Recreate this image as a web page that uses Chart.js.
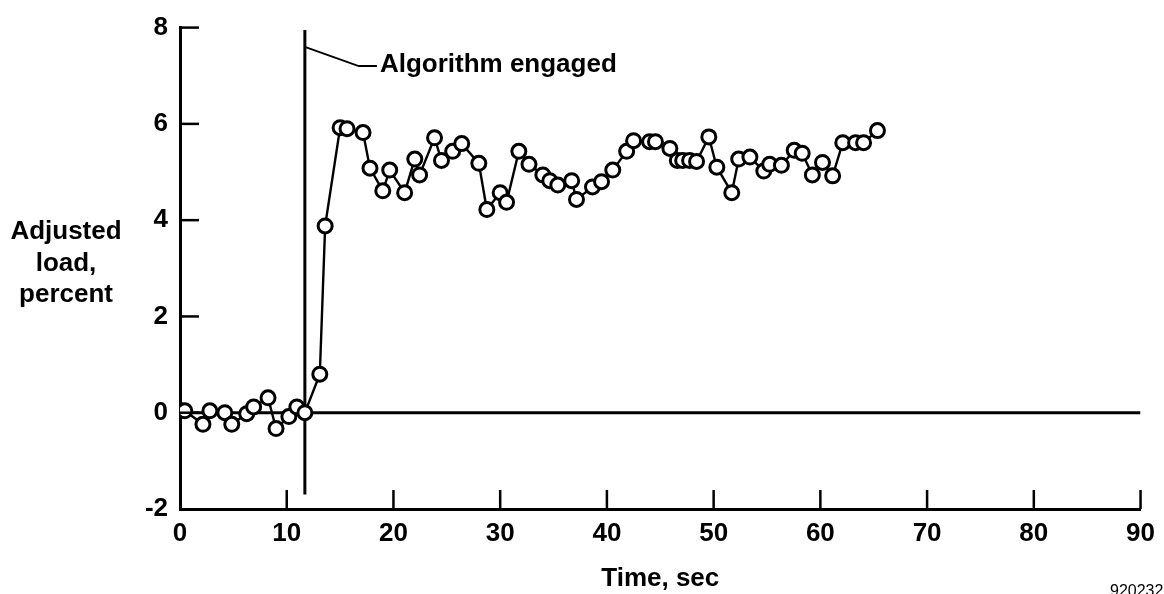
<!DOCTYPE html>
<html>
<head>
<meta charset="utf-8">
<script src="https://cdn.jsdelivr.net/npm/chart.js@4/dist/chart.umd.min.js"></script>
<style>
  html, body { margin: 0; padding: 0; background: #fff; }
  #wrap { width: 1164px; height: 594px; }
</style>
</head>
<body>
<div id="wrap"><canvas id="loadChart" width="1164" height="594"></canvas></div>
<script>
// time (sec) and adjusted load (percent)
const timeSec = [0, 0.45, 2.15, 2.8, 4.2, 4.85, 6.25, 6.9, 8.25, 9.0, 10.2, 10.95, 11.7,
  13.1, 13.6, 15.0, 15.65, 17.15, 17.8, 19.0, 19.65, 21.05, 22.0, 22.45, 23.85, 24.5,
  25.55, 26.4, 28.0, 28.75, 30.0, 30.6, 31.75, 32.7, 34.0, 34.65, 35.4, 36.7, 37.15,
  38.65, 39.5, 40.55, 41.85, 42.5, 44.0, 44.55, 45.9, 46.6, 47.1, 47.75, 48.4, 49.55,
  50.3, 51.7, 52.35, 53.4, 54.7, 55.25, 56.35, 57.55, 58.3, 59.25, 60.2, 61.15, 62.1,
  63.3, 64.05, 65.35];
const loadPct = [0.04, 0.04, -0.24, 0.04, 0, -0.24, -0.02, 0.12, 0.31, -0.33, -0.08, 0.12, 0,
  0.8, 3.88, 5.92, 5.9, 5.82, 5.08, 4.61, 5.04, 4.57, 5.27, 4.94, 5.71, 5.24,
  5.43, 5.59, 5.18, 4.22, 4.57, 4.37, 5.43, 5.16, 4.94, 4.82, 4.73, 4.82, 4.43,
  4.69, 4.8, 5.04, 5.43, 5.65, 5.63, 5.63, 5.49, 5.24, 5.24, 5.24, 5.22, 5.73,
  5.1, 4.57, 5.27, 5.31, 5.02, 5.16, 5.14, 5.45, 5.39, 4.94, 5.2, 4.92, 5.61,
  5.61, 5.61, 5.86];

const xTicks = [0, 10, 20, 30, 40, 50, 60, 70, 80, 90];
const yTicks = [-2, 0, 2, 4, 6, 8];
const engagedAt = 11.7;
const engagedSpan = [-1.7, 7.95];
const leaderX = [engagedAt, 16.75, 18.45];
const leaderY = [7.6, 7.2, 7.2];
const annotationText = 'Algorithm engaged';
const yTitleLines = ['Adjusted', 'load,', 'percent'];
const xTitle = 'Time, sec';
const figureId = '920232';

const FONT = '"Liberation Sans", Arial, Helvetica, sans-serif';

const points = timeSec.map((t, i) => ({ x: t, y: loadPct[i] }));

const extras = {
    id: 'extras',
    afterDraw(chart) {
        const { ctx, chartArea: a, scales: { x, y } } = chart;
        ctx.save();
        ctx.strokeStyle = '#000';
        ctx.lineWidth = 2.5;
        // inward tick marks
        xTicks.slice(1).forEach(v => {
            const px = x.getPixelForValue(v);
            ctx.beginPath(); ctx.moveTo(px, a.bottom); ctx.lineTo(px, a.bottom - 19); ctx.stroke();
        });
        yTicks.slice(1).forEach(v => {
            const py = y.getPixelForValue(v);
            ctx.beginPath(); ctx.moveTo(a.left, py); ctx.lineTo(a.left + 19, py); ctx.stroke();
        });
        ctx.fillStyle = '#000';
        // annotation
        ctx.font = 'bold 26px ' + FONT;
        ctx.textAlign = 'left';
        ctx.textBaseline = 'middle';
        ctx.fillText(annotationText, x.getPixelForValue(leaderX[2]) + 3, y.getPixelForValue(leaderY[2]) - 1);
        // axis titles
        ctx.textAlign = 'center';
        ctx.fillText(xTitle, (a.left + a.right) / 2, 579);
        yTitleLines.forEach((s, i) => ctx.fillText(s, 66, 232 + i * 31.5));
        ctx.font = '16px ' + FONT;
        ctx.textAlign = 'left';
        ctx.textBaseline = 'top';
        ctx.fillText(figureId, 1110, 584);
        ctx.restore();
    }
};

new Chart(document.getElementById('loadChart'), {
    type: 'scatter',
    data: {
        datasets: [
            {
                data: points, showLine: true, order: 0,
                borderColor: '#000', borderWidth: 2.4,
                pointRadius: 7, pointBorderWidth: 3,
                pointBackgroundColor: '#fff', pointBorderColor: '#000'
            },
            {
                data: [{ x: 0, y: 0 }, { x: 90, y: 0 }], showLine: true, order: 2,
                borderColor: '#000', borderWidth: 3, pointRadius: 0
            },
            {
                data: engagedSpan.map(v => ({ x: engagedAt, y: v })), showLine: true, order: 2,
                borderColor: '#000', borderWidth: 3, pointRadius: 0
            },
            {
                data: leaderX.map((v, i) => ({ x: v, y: leaderY[i] })), showLine: true, order: 2,
                borderColor: '#000', borderWidth: 2, pointRadius: 0
            }
        ]
    },
    options: {
        responsive: false,
        animation: false,
        devicePixelRatio: 1,
        layout: { padding: { top: 16, right: 23, left: 0, bottom: 0 } },
        plugins: { legend: { display: false }, tooltip: { enabled: false } },
        scales: {
            x: {
                type: 'linear', min: 0, max: 90,
                afterFit: s => { s.height = 85; },
                afterBuildTicks: s => { s.ticks = xTicks.map(v => ({ value: v })); },
                ticks: { color: '#000', padding: 9, maxRotation: 0, font: { family: FONT, size: 26, weight: 'bold' } },
                grid: { display: false, drawTicks: false },
                border: { display: true, color: '#000', width: 3 }
            },
            y: {
                type: 'linear', min: -2, max: 8,
                afterFit: s => { s.width = 180; },
                afterBuildTicks: s => { s.ticks = yTicks.map(v => ({ value: v })); },
                ticks: { color: '#000', padding: 12, font: { family: FONT, size: 26, weight: 'bold' } },
                grid: { display: false, drawTicks: false },
                border: { display: true, color: '#000', width: 3 }
            }
        }
    },
    plugins: [extras]
});
</script>
</body>
</html>
